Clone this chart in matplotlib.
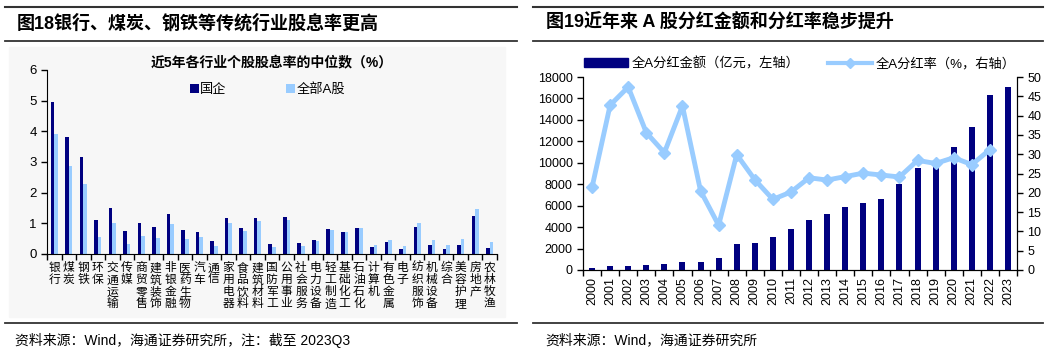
import numpy as np
import matplotlib

matplotlib.use('Agg')
import matplotlib.pyplot as plt
from matplotlib.patches import Patch, Rectangle
from matplotlib.lines import Line2D

plt.rcParams['font.family'] = ['Liberation Sans', 'Noto Sans CJK SC']

# ---- data: left panel (dividend yield median, %)
industries = ['银行', '煤炭', '钢铁', '环保', '交通运输', '传媒', '商贸零售', '建筑装饰', '非银金融',
              '医药生物', '汽车', '通信', '家用电器', '食品饮料', '建筑材料', '国防军工', '公用事业',
              '社会服务', '电力设备', '轻工制造', '基础化工', '石油石化', '计算机', '有色金属', '电子',
              '纺织服饰', '机械设备', '综合', '美容护理', '房地产', '农林牧渔']
soe_yield = [4.95, 3.80, 3.17, 1.11, 1.49, 0.74, 1.02, 0.88, 1.29, 0.77, 0.72, 0.41, 1.16, 0.86, 1.16,
             0.33, 1.21, 0.35, 0.45, 0.82, 0.72, 0.84, 0.23, 0.39, 0.16, 0.87, 0.30, 0.16, 0.28, 1.25, 0.18]
all_yield = [3.90, 2.87, 2.27, 0.55, 1.00, 0.33, 0.60, 0.52, 0.99, 0.49, 0.55, 0.25, 1.02, 0.75, 1.07,
             0.22, 1.11, 0.27, 0.42, 0.78, 0.72, 0.84, 0.28, 0.45, 0.25, 1.00, 0.45, 0.29, 0.48, 1.46, 0.39]

# ---- data: right panel
years = [str(y) for y in range(2000, 2024)]
dividend_amount = [200, 370, 400, 470, 560, 710, 745, 1150, 2450, 2500, 3040, 3850, 4700, 5200, 5850,
                   6270, 6640, 7975, 9500, 10100, 11500, 13300, 16300, 17100]
payout_ratio = [21.4, 42.7, 47.4, 35.6, 30.4, 42.5, 20.5, 11.6, 29.9, 23.4, 18.3, 20.2, 23.9, 23.3, 24.2,
                25.1, 24.6, 24.1, 28.4, 27.6, 29.1, 27.3, 31.2]

NAVY = '#000080'
LIGHT = '#99ccff'
W, H = 1054, 351

fig = plt.figure(figsize=(W / 100, H / 100), dpi=100)


def px(x0, y0, x1, y1):
    # pixel box (top-left origin) -> figure rect
    return [x0 / W, 1 - y1 / H, (x1 - x0) / W, (y1 - y0) / H]


def hline(x0, x1, y, lw=1.3):
    fig.add_artist(Line2D([x0 / W, x1 / W], [1 - y / H, 1 - y / H], color='#333333', lw=lw))


# frame lines and titles
for x0, x1 in [(5, 517), (533, 1043)]:
    hline(x0, x1, 7, 1.5)
    hline(x0, x1, 41, 1.3)
    hline(x0, x1, 323, 1.3)
fig.add_artist(Rectangle((9 / W, 1 - 317 / H), 496 / W, 270 / H, color='#f7f7f7', zorder=-5))

fig.text(17 / W, 1 - 23 / H, '图18银行、煤炭、钢铁等传统行业股息率更高', fontsize=13,
         fontweight='bold', va='center')
fig.text(546 / W, 1 - 23 / H, '图19近年来 A 股分红金额和分红率稳步提升', fontsize=13,
         fontweight='bold', va='center')
fig.text(15 / W, 1 - 340 / H, '资料来源：Wind，海通证券研究所，注：截至 2023Q3', fontsize=10, va='center')
fig.text(545 / W, 1 - 340 / H, '资料来源：Wind，海通证券研究所', fontsize=10, va='center')

# ---- left panel
ax1 = fig.add_axes(px(47, 70, 497, 254))
ax1.patch.set_alpha(0)
x = np.arange(len(industries))
ax1.bar(x - 0.125, soe_yield, width=0.25, color=NAVY, label='国企')
ax1.bar(x + 0.125, all_yield, width=0.25, color=LIGHT, label='全部A股')
ax1.set_xlim(-0.5, len(industries) - 0.5)
ax1.set_ylim(0, 6)
ax1.set_yticks(range(7))
ax1.set_xticks(np.arange(len(industries) + 1) - 0.5)
ax1.set_xticklabels([])
for s in ['top', 'right']:
    ax1.spines[s].set_visible(False)
ax1.tick_params(axis='both', direction='out', length=4, width=1, labelsize=9.5)
for i, name in enumerate(industries):
    ax1.annotate('\n'.join(name), xy=(i, 0), xycoords=('data', 'axes fraction'), xytext=(0, -6),
                 textcoords='offset points', ha='center', va='top', fontsize=8.5, linespacing=1.0)
ax1.text(0.5, 1.04, '近5年各行业个股股息率的中位数（%）', transform=ax1.transAxes, ha='center',
         va='center', fontsize=10, fontweight='bold')
ax1.legend(loc='center', bbox_to_anchor=(0.49, 0.895), ncol=2, frameon=False, fontsize=9.5,
           handlelength=0.7, handleheight=0.7, handletextpad=0.1, columnspacing=4.5)

# ---- right panel
ax2 = fig.add_axes(px(583, 77, 1017, 270))
xr = np.arange(len(years))
ax2.bar(xr, dividend_amount, width=0.33, color=NAVY, label='全A分红金额（亿元，左轴）')
ax2.set_xlim(-0.5, len(years) - 0.5)
ax2.set_ylim(0, 18000)
ax2.set_yticks(range(0, 18001, 2000))
ax2.set_xticks(np.arange(len(years) + 1) - 0.5)
ax2.set_xticklabels([])
for i, yr in enumerate(years):
    ax2.annotate(yr, xy=(i, 0), xycoords=('data', 'axes fraction'), xytext=(0, -5),
                 textcoords='offset points', ha='center', va='top', rotation=90, fontsize=9)
ax2.spines['top'].set_visible(False)
ax2.tick_params(axis='both', direction='out', length=4, width=1, labelsize=9)

ax3 = ax2.twinx()
ax3.plot(xr[:len(payout_ratio)], payout_ratio, color=LIGHT, lw=3.5, marker='D', markersize=6,
         label='全A分红率（%，右轴）')
ax3.set_ylim(0, 50)
ax3.set_yticks(range(0, 51, 5))
ax3.spines['top'].set_visible(False)
ax3.tick_params(axis='y', direction='out', length=4, width=1, labelsize=9)

handles = [Patch(color=NAVY), Line2D([], [], color=LIGHT, lw=3, marker='D', markersize=5)]
labels = ['全A分红金额（亿元，左轴）', '全A分红率（%，右轴）']
ax2.legend(handles, labels, loc='center', bbox_to_anchor=(0.5, 1.07), ncol=2, frameon=False,
           fontsize=9.5, handlelength=3.3, handleheight=0.6, handletextpad=0.3, columnspacing=2.2)

plt.savefig('out.png', dpi=100)
plt.close()
